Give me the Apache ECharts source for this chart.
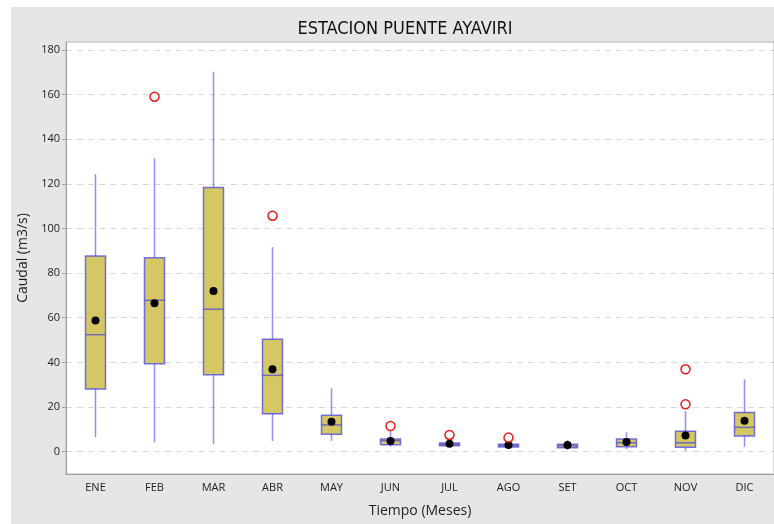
<!DOCTYPE html>
<html>
<head>
<meta charset="utf-8">
<script src="https://cdn.jsdelivr.net/npm/echarts@6/dist/echarts.min.js"></script>
<style>
  html, body { margin: 0; padding: 0; background: #ffffff; }
  #panel { position: absolute; left: 11px; top: 7px; width: 763px; height: 517px; background: #e6e6e6; }
  #chart { position: absolute; left: 0; top: 0; width: 774px; height: 524px; }
</style>
</head>
<body>
<div id="panel"></div>
<div id="chart"></div>
<script>
// Monthly discharge summary (m3/s) at Puente Ayaviri station
const months = ['ENE', 'FEB', 'MAR', 'ABR', 'MAY', 'JUN', 'JUL', 'AGO', 'SET', 'OCT', 'NOV', 'DIC'];
const whiskerLow  = [6.5, 4.2, 3.4, 4.8, 4.8, 2.2, 2.3, 1.8, 0.8, 1.2, 0.5, 2.2];
const q1          = [28.1, 39.4, 34.5, 17.0, 7.8, 3.1, 2.6, 2.1, 1.8, 2.2, 2.0, 7.0];
const median      = [52.4, 67.8, 63.8, 34.2, 12.0, 4.9, 3.3, 2.7, 2.6, 4.0, 4.0, 10.9];
const q3          = [87.7, 86.9, 118.3, 50.4, 16.3, 5.7, 3.9, 3.3, 3.3, 5.7, 9.1, 17.6];
const whiskerHigh = [124.3, 131.4, 170.2, 91.6, 28.4, 9.4, 4.5, 4.0, 5.2, 8.7, 18.2, 32.4];
const mean        = [58.7, 66.5, 72.0, 36.9, 13.4, 4.8, 3.6, 3.0, 3.0, 4.3, 7.3, 13.9];
const outlierMonth = ['FEB', 'ABR', 'JUN', 'JUL', 'AGO', 'NOV', 'NOV'];
const outlierValue = [159.0, 105.7, 11.5, 7.5, 6.3, 36.9, 21.2];
const yTicks = [0, 20, 40, 60, 80, 100, 120, 140, 160, 180];

const boxRows = months.map((m, i) => [i, whiskerLow[i], q1[i], median[i], q3[i], whiskerHigh[i]]);
const meanRows = months.map((m, i) => [m, mean[i]]);
const outlierRows = outlierMonth.map((m, i) => [m, outlierValue[i]]);

const BOX_FILL = '#d5c763';
const BOX_EDGE = 'rgba(60,60,235,0.7)';
const WHISKER = 'rgba(95,95,255,0.7)';
const MEDIAN = 'rgba(80,80,210,0.75)';
const HALF_W = 10;

function renderBox(params, api) {
  const x = api.value(0);
  const lo = api.coord([x, api.value(1)]);
  const a = api.coord([x, api.value(2)]);
  const md = api.coord([x, api.value(3)]);
  const b = api.coord([x, api.value(4)]);
  const hi = api.coord([x, api.value(5)]);
  const cx = lo[0];
  return {
    type: 'group',
    children: [
      { type: 'line', shape: { x1: cx, y1: hi[1], x2: cx, y2: b[1] }, style: { stroke: WHISKER, lineWidth: 1.5 } },
      { type: 'line', shape: { x1: cx, y1: a[1], x2: cx, y2: lo[1] }, style: { stroke: WHISKER, lineWidth: 1.5 } },
      { type: 'rect', shape: { x: cx - HALF_W, y: b[1], width: HALF_W * 2, height: a[1] - b[1] },
        style: { fill: BOX_FILL, stroke: BOX_EDGE, lineWidth: 1.5 } },
      { type: 'line', shape: { x1: cx - HALF_W, y1: md[1], x2: cx + HALF_W, y2: md[1] }, style: { stroke: MEDIAN, lineWidth: 1.5 } }
    ]
  };
}

const chart = echarts.init(document.getElementById('chart'), null, { renderer: 'canvas' });
const labelFont = { fontFamily: 'Open Sans', fontSize: 11, color: '#222' };

chart.setOption({
  backgroundColor: 'transparent',
  animation: false,
  title: {
    text: 'ESTACION PUENTE AYAVIRI',
    left: 400,
    top: 15,
    textAlign: 'center',
    textStyle: { fontFamily: '"DejaVu Sans Condensed", "Liberation Sans", sans-serif', fontSize: 18, fontWeight: 'normal', color: '#111' }
  },
  grid: {
    left: 66, top: 42, width: 710, height: 432,
    show: true, backgroundColor: '#ffffff', borderColor: '#b4b4b4', borderWidth: 1
  },
  xAxis: {
    type: 'category',
    data: months,
    name: 'Tiempo (Meses)',
    nameLocation: 'middle',
    nameGap: 30,
    nameTextStyle: { fontFamily: 'Open Sans', fontSize: 14, color: '#222' },
    axisLine: { onZero: false, lineStyle: { color: '#a0a0a0' } },
    axisTick: { alignWithLabel: true, length: 4, lineStyle: { color: '#a0a0a0' } },
    axisLabel: Object.assign({ margin: 8 }, labelFont),
    splitLine: { show: false }
  },
  yAxis: {
    type: 'value',
    min: -10,
    max: 183.5,
    name: 'Caudal (m3/s)',
    nameLocation: 'middle',
    nameGap: 32,
    nameTextStyle: { fontFamily: 'Open Sans', fontSize: 14, color: '#222' },
    axisLine: { show: true, lineStyle: { color: '#a0a0a0' } },
    axisTick: { show: true, length: 4, customValues: yTicks, lineStyle: { color: '#a0a0a0' } },
    axisLabel: Object.assign({ margin: 6, customValues: yTicks }, labelFont),
    splitLine: { show: true, lineStyle: { color: '#d8d8d8', type: [6, 5], width: 1 } }
  },
  series: [
    {
      type: 'custom',
      renderItem: renderBox,
      data: boxRows,
      encode: { x: 0, y: [1, 2, 3, 4, 5] },
      z: 2
    },
    {
      type: 'scatter',
      data: meanRows,
      symbol: 'circle',
      symbolSize: 8,
      itemStyle: { color: '#000000', opacity: 1 },
      z: 3
    },
    {
      type: 'scatter',
      data: outlierRows,
      symbol: 'circle',
      symbolSize: 9,
      itemStyle: { color: '#ffffff', borderColor: '#e0201c', borderWidth: 1.5, opacity: 1 },
      z: 3
    }
  ]
});
</script>
</body>
</html>
